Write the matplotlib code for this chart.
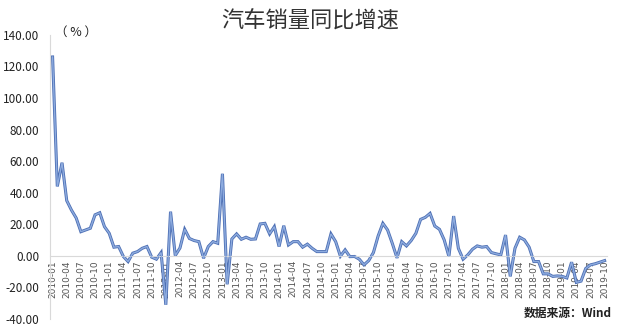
import matplotlib
matplotlib.use("Agg")
import matplotlib.pyplot as plt
import numpy as np

plt.rcParams['font.family'] = ['Noto Sans CJK SC', 'DejaVu Sans']

# monthly yoy growth of car sales, 2010-01 .. 2019-10 (%)
years = list(range(2010, 2020))
growth = [
    126.0, 44.0, 59.0, 35.0, 29.0, 24.0, 15.3, 16.4, 17.5, 26.0, 27.3, 18.5,   # 2010
    14.3, 5.5, 5.9, -0.4, -3.6, 1.7, 2.7, 4.8, 5.9, -0.8, -2.1, 2.1,           # 2011
    -31.0, 28.0, 0.2, 5.0, 16.8, 11.0, 9.7, 9.0, -1.5, 5.9, 9.0, 8.0,          # 2012
    52.0, -18.0, 10.7, 13.9, 10.5, 11.8, 10.5, 10.7, 20.2, 20.6, 13.9, 18.5,   # 2013
    5.9, 19.1, 6.9, 9.0, 9.0, 5.5, 7.4, 4.8, 2.7, 2.7, 2.7, 13.9,              # 2014
    9.0, -0.2, 3.8, -0.5, -0.4, -2.1, -5.7, -3.0, 2.1, 12.6, 20.6, 16.4,       # 2015
    7.9, -1.3, 9.0, 6.3, 9.7, 14.3, 23.1, 24.4, 26.9, 18.9, 16.8, 10.1,        # 2016
    -0.4, 25.2, 4.8, -2.1, 0.6, 4.2, 6.3, 5.5, 5.9, 2.1, 1.3, 0.6,             # 2017
    13.2, -13.0, 4.8, 11.8, 10.1, 5.5, -3.6, -3.6, -11.4, -11.4, -13.0, -12.7, # 2018
    -13.0, -14.0, -4.0, -16.8, -16.0, -8.0, -5.7, -5.0, -4.0, -3.0,            # 2019
]
months = ["%d-%02d" % (y, m) for y in years for m in range(1, 13)][:len(growth)]

x = np.arange(len(growth))

fig = plt.figure(figsize=(6.2, 3.26), dpi=100)
ax = fig.add_axes([0.081, 0.0215, 0.898, 0.8715])

# line with darker outline, like the excel shadow
ax.plot(x, growth, color='#4d6fb4', lw=2.2, solid_joinstyle='miter', zorder=2)
ax.plot(x, growth, color='#8eacdf', lw=1.0, solid_joinstyle='miter', zorder=3)

# x axis sits on the zero line (set before the labels, it resets ticks)
ax.spines['bottom'].set_position(('data', 0))
for s in ['top', 'right']:
    ax.spines[s].set_visible(False)
ax.spines['bottom'].set_color('#d9d9d9')
ax.spines['left'].set_color('#d9d9d9')

ax.set_xlim(-0.5, len(growth) - 0.5)
ax.set_ylim(-40, 140)
ax.set_yticks(np.arange(-40, 141, 20))
ax.set_yticklabels(["%.2f" % v for v in np.arange(-40, 141, 20)], fontsize=8.5, color='#222222')

ax.set_xticks(x[::3])
ax.set_xticklabels(months[::3], rotation=90, fontsize=6.5, color='#555555',
                   family=['DejaVu Sans'])

ax.tick_params(axis='both', length=0)
ax.tick_params(axis='x', pad=3)
ax.tick_params(axis='y', pad=8)

fig.text(0.5, 0.935, "汽车销量同比增速", ha='center', va='center', fontsize=16, color='#333333')
fig.text(0.123, 0.9, "（ % ）", ha='center', va='center', fontsize=9, color='#222222')
fig.text(0.987, 0.04, "数据来源：Wind", ha='right', va='center', fontsize=8.5,
         color='#222222', fontweight='bold')

fig.savefig("out.png", dpi=100)
